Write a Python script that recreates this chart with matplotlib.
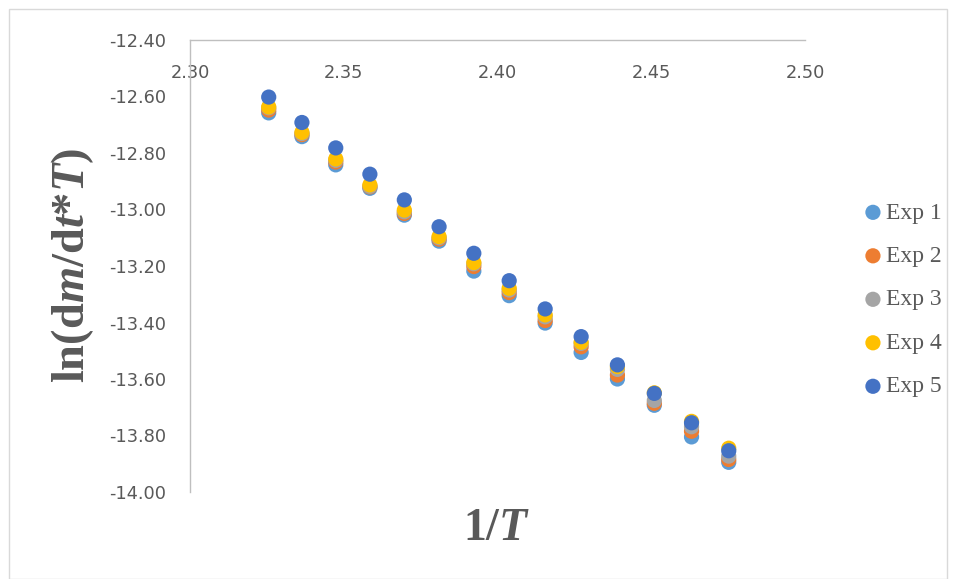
import numpy as np
import matplotlib
matplotlib.use('Agg')
import matplotlib.pyplot as plt
from matplotlib.patches import Rectangle

# 1/T values (x) and ln(dm/dt*T) for each experiment
inv_T = [2.3256, 2.3364, 2.3474, 2.3585, 2.3697, 2.3810, 2.3923,
         2.4038, 2.4155, 2.4272, 2.4390, 2.4510, 2.4631, 2.4752]
exp1 = [-12.658, -12.742, -12.842, -12.925, -13.020, -13.112, -13.218,
        -13.305, -13.402, -13.506, -13.600, -13.693, -13.805, -13.895]
exp2 = [-12.648, -12.735, -12.832, -12.920, -13.014, -13.105, -13.202,
        -13.294, -13.393, -13.486, -13.586, -13.686, -13.785, -13.885]
exp3 = [-12.640, -12.731, -12.826, -12.918, -13.008, -13.100, -13.192,
        -13.285, -13.380, -13.474, -13.566, -13.676, -13.769, -13.873]
exp4 = [-12.637, -12.727, -12.821, -12.913, -13.002, -13.096, -13.188,
        -13.279, -13.373, -13.470, -13.556, -13.649, -13.750, -13.845]
exp5 = [-12.602, -12.692, -12.782, -12.875, -12.966, -13.061, -13.155,
        -13.252, -13.352, -13.450, -13.550, -13.651, -13.755, -13.854]
series = [exp1, exp2, exp3, exp4, exp5]
labels = ['Exp 1', 'Exp 2', 'Exp 3', 'Exp 4', 'Exp 5']
colors = ['#5B9BD5', '#ED7D31', '#A5A5A5', '#FFC000', '#4472C4']

x_ticks = [2.30, 2.35, 2.40, 2.45, 2.50]
y_ticks = [-14.0, -13.8, -13.6, -13.4, -13.2, -13.0, -12.8, -12.6, -12.4]

plt.rcParams['mathtext.fontset'] = 'custom'
plt.rcParams['mathtext.rm'] = 'Liberation Serif:bold'
plt.rcParams['mathtext.it'] = 'Liberation Serif:italic:bold'
plt.rcParams['mathtext.bf'] = 'Liberation Serif:bold'

W, H = 956, 579
fig = plt.figure(figsize=(W / 100, H / 100), dpi=100)
ax = fig.add_axes([190 / W, 1 - 492 / H, (805 - 190) / W, (492 - 40) / H])

for ys, lab, c in zip(series, labels, colors):
    ax.scatter(inv_T, ys, s=120, color=c, edgecolors='none', label=lab,
               zorder=3)

ax.set_xlim(2.30, 2.50)
ax.set_ylim(-14.0, -12.4)
ax.set_xticks(x_ticks)
ax.set_yticks(y_ticks)
ax.set_xticklabels(['%.2f' % v for v in x_ticks])
ax.set_yticklabels(['%.2f' % v for v in y_ticks])

# horizontal axis crosses at the top (-12.40), labels below the line
ax.spines['bottom'].set_position(('data', -12.4))
ax.spines['top'].set_visible(False)
ax.spines['right'].set_visible(False)
for sp in ['bottom', 'left']:
    ax.spines[sp].set_color('#BFBFBF')
    ax.spines[sp].set_linewidth(1.0)

ax.tick_params(axis='x', length=0, pad=17, labelsize=12.8, labelcolor='#595959')
ax.tick_params(axis='y', length=0, pad=17, labelsize=12.8, labelcolor='#595959')

fig.text(497 / W, 1 - 527 / H, r'$\mathrm{1/}T$', fontsize=33,
         color='#595959', ha='center', va='center')
fig.text(73 / W, 1 - 265 / H, r'$\mathrm{ln(d}m\mathrm{/d}t{*}T\mathrm{)}$',
         fontsize=33.5, color='#595959', ha='center', va='center', rotation=90)

leg = ax.legend(loc='upper left', bbox_to_anchor=(863.5 / W, 1 - 202 / H),
                bbox_transform=fig.transFigure, frameon=False, borderpad=0,
                borderaxespad=0, handlelength=0.8, handletextpad=0.15,
                labelspacing=0.93, scatterpoints=1,
                prop={'family': 'Liberation Serif', 'size': 17})
for t in leg.get_texts():
    t.set_color('#595959')

# thin chart-area border
fig.patches.append(Rectangle((9 / W, 0), (947 - 9) / W, 1 - 9 / H,
                             transform=fig.transFigure, fill=False,
                             edgecolor='#D9D9D9', linewidth=1.0))

fig.savefig('out.png', dpi=100)
